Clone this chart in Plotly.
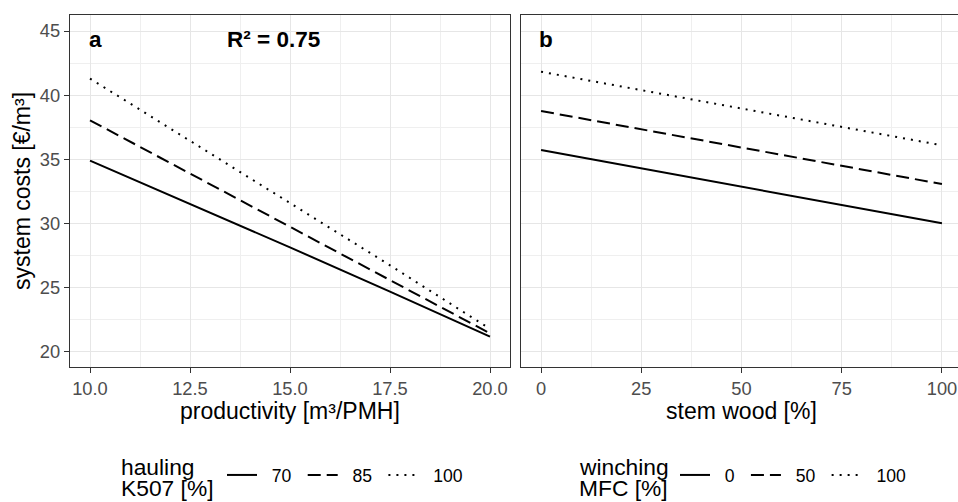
import plotly.graph_objects as go

# ---- data ----
productivity = [10.0, 12.5, 15.0, 17.5, 20.0]
hauling_levels = ["70", "85", "100"]
cost_a_70 = [34.9, 31.55, 28.15, 24.7, 21.2]
cost_a_85 = [38.05, 33.9, 29.8, 25.6, 21.45]
cost_a_100 = [41.3, 36.45, 31.65, 26.75, 21.8]

stem_wood = [0, 25, 50, 75, 100]
winching_levels = ["0", "50", "100"]
cost_b_0 = [35.73, 34.3, 32.88, 31.45, 30.02]
cost_b_50 = [38.77, 37.35, 35.93, 34.5, 33.08]
cost_b_100 = [41.83, 40.4, 38.97, 37.53, 36.1]

x_ticks_a = [10.0, 12.5, 15.0, 17.5, 20.0]
x_ticklabels_a = ["10.0", "12.5", "15.0", "17.5", "20.0"]
x_ticks_b = [0, 25, 50, 75, 100]
y_ticks = [20, 25, 30, 35, 40, 45]

W, H = 958, 502
FONT = "Liberation Sans, Arial, sans-serif"
dashes = ["solid", "13px,6px", "2px,6px"]
LEAD = "\u00a0\u00a0"
TRAIL = "\u00a0\u200a"

fig = go.Figure()
for name, ys, d in zip(hauling_levels, [cost_a_70, cost_a_85, cost_a_100], dashes):
    fig.add_trace(go.Scatter(x=productivity, y=ys, mode="lines", name=LEAD + name + TRAIL,
                             line=dict(color="black", width=2, dash=d),
                             xaxis="x", yaxis="y", legend="legend"))
for name, ys, d in zip(winching_levels, [cost_b_0, cost_b_50, cost_b_100], dashes):
    fig.add_trace(go.Scatter(x=stem_wood, y=ys, mode="lines", name=LEAD + name + TRAIL,
                             line=dict(color="black", width=2, dash=d),
                             xaxis="x2", yaxis="y2", legend="legend2"))

def px_x(p):
    return p / W

def px_y(p):
    return 1 - p / H

grid = dict(showgrid=True, gridcolor="#E6E6E6", gridwidth=1.3, zeroline=False,
            ticks="outside", ticklen=5, tickwidth=1.3, tickcolor="#333333",
            tickfont=dict(family=FONT, size=18.3, color="#4D4D4D"),
            showline=True, linecolor="#333333", linewidth=1.3, automargin=False)
minor = dict(showgrid=True, gridcolor="#EFEFEF", gridwidth=1.0, ticks="")

yr = [18.83, 46.25]
leg_common = dict(orientation="h", xanchor="left", yanchor="middle",
                  bgcolor="rgba(0,0,0,0)", borderwidth=0,
                  font=dict(family=FONT, size=17.6, color="black"),
                  itemwidth=30, tracegroupgap=0)
fig.update_layout(
    width=W, height=H, margin=dict(l=0, r=0, t=0, b=0),
    paper_bgcolor="white", plot_bgcolor="white",
    font=dict(family=FONT, color="black"),
    xaxis=dict(domain=[px_x(70), px_x(510)], range=[9.5, 20.5],
               tickvals=x_ticks_a, ticktext=x_ticklabels_a, mirror=True,
               minor=dict(dtick=1.25, tick0=10, **minor), anchor="y", **grid),
    yaxis=dict(domain=[px_y(367), px_y(15)], range=yr, tickvals=y_ticks, mirror=True,
               minor=dict(dtick=2.5, tick0=20, **minor), anchor="x", **grid),
    xaxis2=dict(domain=[px_x(521), 1.0], range=[-5, 104.0],
                tickvals=x_ticks_b, mirror=True,
                minor=dict(dtick=12.5, tick0=0, **minor), anchor="y2", **grid),
    yaxis2=dict(domain=[px_y(367), px_y(15)], range=yr, tickvals=y_ticks,
                minor=dict(dtick=2.5, tick0=20, **minor), anchor="x2",
                **{**grid, "ticks": "", "showticklabels": False}),
    legend=dict(x=px_x(222), y=px_y(475), **leg_common),
    legend2=dict(x=px_x(675), y=px_y(475), **leg_common),
    showlegend=True,
)

ann = [
    dict(text="<b>a</b>", x=87, y=39, xanchor="left", size=22.5),
    dict(text="<b>R² = 0.75</b>", x=225, y=39, xanchor="left", size=22.5),
    dict(text="<b>b</b>", x=537, y=39, xanchor="left", size=22.5),
    dict(text="productivity [m³/PMH]", x=290, y=411, xanchor="center", size=23),
    dict(text="stem wood [%]", x=741, y=411, xanchor="center", size=23),
    dict(text="hauling", x=119, y=467, xanchor="left", size=22.8),
    dict(text="K507 [%]", x=119, y=488, xanchor="left", size=22.8),
    dict(text="winching", x=577, y=467, xanchor="left", size=22.8),
    dict(text="MFC [%]", x=577, y=488, xanchor="left", size=22.8),
]
for a in ann:
    fig.add_annotation(text=a["text"], x=px_x(a["x"]), y=px_y(a["y"]), xref="paper", yref="paper",
                       xanchor=a["xanchor"], yanchor="middle", showarrow=False,
                       font=dict(family=FONT, size=a["size"], color="black"))
fig.add_annotation(text="system costs [€/m³]", x=px_x(22), y=px_y(191), xref="paper", yref="paper",
                   xanchor="center", yanchor="middle", textangle=-90, showarrow=False,
                   font=dict(family=FONT, size=23, color="black"))

fig.write_html("out.html", config={"displayModeBar": False},
               post_script="document.body.style.margin='0';document.body.style.overflow='hidden';")
